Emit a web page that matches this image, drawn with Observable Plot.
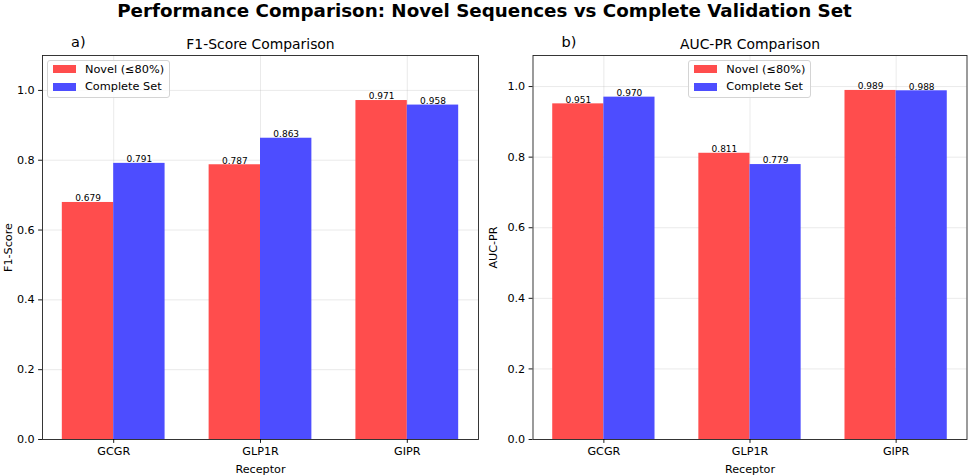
<!DOCTYPE html>
<html><head><meta charset="utf-8">
<script src="https://cdn.jsdelivr.net/npm/d3@7"></script>
<script src="https://cdn.jsdelivr.net/npm/@observablehq/plot@0.6"></script>
<style>
body{margin:0;background:#fff;font-family:"DejaVu Sans",sans-serif;}
#wrap{position:relative;width:969px;height:475px;overflow:hidden;background:#fff}
#title{height:30px;line-height:21.4px;text-align:center;font-weight:bold;font-size:18.3px;color:#000;white-space:nowrap}
#row{display:flex}
.panel{position:relative}
.legend{position:absolute;box-sizing:border-box;border:1px solid #d4d4d4;border-radius:3px;background:rgba(255,255,255,0.8);font-size:11.3px;color:#000}
.legend .sw{position:absolute;width:23px;height:7.8px}
.legend .lb{position:absolute;line-height:13px;white-space:nowrap}
</style></head><body>
<div id="wrap">
<div id="title">Performance Comparison: Novel Sequences vs Complete Validation Set</div>
<div id="row"></div>
</div>
<script>
const receptors = ["GCGR", "GLP1R", "GIPR"];
const seriesNames = ["Novel (≤80%)", "Complete Set"];
const seriesColors = ["rgb(255,77,77)", "rgb(77,77,255)"];
const f1Novel = [0.679, 0.787, 0.971];
const f1Complete = [0.791, 0.863, 0.958];
const aucNovel = [0.951, 0.811, 0.989];
const aucComplete = [0.970, 0.779, 0.988];
const yTicks = [0.0, 0.2, 0.4, 0.6, 0.8, 1.0];
const xTicks = [0, 1, 2];
const barWidth = 0.35;

function rowsFor(novel, complete) {
  const rows = [];
  receptors.forEach((r, i) => {
    rows.push({receptor: r, i, s: 0, value: novel[i]});
    rows.push({receptor: r, i, s: 1, value: complete[i]});
  });
  return rows;
}

function makePanel({letter, title, ylabel, novel, complete, yMax, width, ml, mr, legendLeft, ylabelOffset}) {
  const rows = rowsFor(novel, complete);
  const gridStyle = {stroke: "#b0b0b0", strokeOpacity: 0.3, strokeWidth: 0.9};
  const svg = Plot.plot({
    width, height: 445,
    marginLeft: ml, marginRight: mr, marginTop: 25, marginBottom: 36,
    style: {fontFamily: "DejaVu Sans", fontSize: "11.2px", color: "#000", background: "transparent"},
    x: {type: "linear", domain: [-0.485, 2.485], nice: false},
    y: {domain: [0, yMax], nice: false},
    color: {type: "identity"},
    marks: [
      Plot.gridY(yTicks, gridStyle),
      Plot.gridX(xTicks, gridStyle),
      Plot.rectY(rows, {
        x1: d => d.i + (d.s === 0 ? -barWidth : 0),
        x2: d => d.i + (d.s === 0 ? 0 : barWidth),
        y: "value",
        fill: d => seriesColors[d.s]
      }),
      Plot.text(rows, {
        x: d => d.i + (d.s === 0 ? -barWidth / 2 : barWidth / 2),
        y: "value",
        text: d => d.value.toFixed(3),
        lineAnchor: "bottom", dy: -1.2, fontSize: 9, fill: "#000"
      }),
      Plot.frame({stroke: "#222", strokeWidth: 0.9}),
      Plot.axisY(yTicks, {
        tickSize: 3.9, tickPadding: 3.9, strokeWidth: 0.9,
        tickFormat: d3.format(".1f"), fontSize: 11.2,
        label: ylabel, labelAnchor: "center", labelOffset: ylabelOffset, labelArrow: "none"
      }),
      Plot.axisX(xTicks, {
        tickSize: 3.9, tickPadding: 3.9, strokeWidth: 0.9,
        tickFormat: i => receptors[i], fontSize: 11.2,
        label: "Receptor", labelAnchor: "center", labelOffset: 33, labelArrow: "none"
      }),
      Plot.text([title], {frameAnchor: "top", text: d => d, lineAnchor: "bottom", dy: -6.7, fontSize: 13.9, fill: "#000"}),
      Plot.text([letter], {frameAnchor: "top-left", text: d => d, textAnchor: "start", lineAnchor: "bottom", dx: 28.5, dy: -8.5, fontSize: 14.5, fill: "#000"})
    ]
  });
  const panel = document.createElement("div");
  panel.className = "panel";
  panel.style.width = width + "px";
  panel.appendChild(svg);
  const lg = document.createElement("div");
  lg.className = "legend";
  lg.style.left = legendLeft + "px";
  lg.style.top = "30px";
  lg.style.width = "123px";
  lg.style.height = "37.7px";
  seriesNames.forEach((name, k) => {
    const sw = document.createElement("div");
    sw.className = "sw";
    sw.style.background = seriesColors[k];
    sw.style.left = "5px";
    sw.style.top = (9.3 + 17.4 * k - 3.9 - 1) + "px";
    lg.appendChild(sw);
    const lb = document.createElement("div");
    lb.className = "lb";
    lb.textContent = name;
    lb.style.left = "37.3px";
    lb.style.top = (9.3 + 17.4 * k - 6.5 - 1) + "px";
    lg.appendChild(lb);
  });
  panel.appendChild(lg);
  return panel;
}

const row = document.getElementById("row");
row.appendChild(makePanel({letter: "a)", title: "F1-Score Comparison", ylabel: "F1-Score",
  novel: f1Novel, complete: f1Complete, yMax: 1.1, width: 485, ml: 42, mr: 7, legendLeft: 46.7, ylabelOffset: 38}));
row.appendChild(makePanel({letter: "b)", title: "AUC-PR Comparison", ylabel: "AUC-PR",
  novel: aucNovel, complete: aucComplete, yMax: 1.088, width: 484, ml: 47.5, mr: 2.5, legendLeft: 203, ylabelOffset: 44}));
</script>
</body></html>
